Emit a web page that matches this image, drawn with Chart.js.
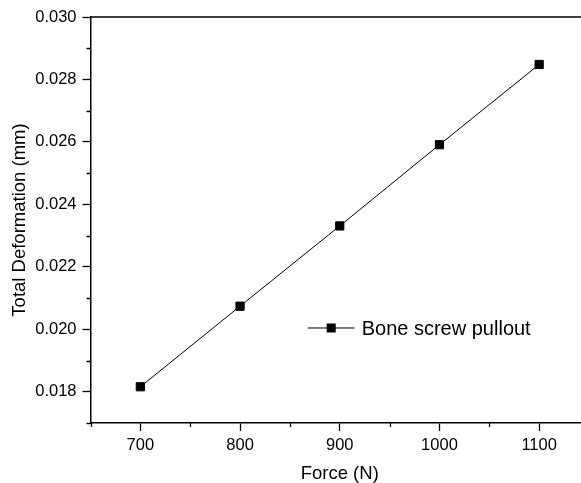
<!DOCTYPE html>
<html>
<head>
<meta charset="utf-8">
<script src="https://cdn.jsdelivr.net/npm/chart.js@4/dist/chart.umd.min.js"></script>
<style>
html,body{margin:0;padding:0;background:#fff;overflow:hidden;}
#wrap{width:581px;height:483px;overflow:hidden;}
</style>
</head>
<body>
<div id="wrap"><canvas id="grafico" width="600" height="483"></canvas></div>
<script>
"use strict";
// dati
const forces = [700, 800, 900, 1000, 1100];
const deformation = [0.01816, 0.02074, 0.02331, 0.02591, 0.02848];
const seriesName = "Bone screw pullout";

// tacche degli assi
const xTicks = [700, 800, 900, 1000, 1100];
const xMinor = [650, 750, 850, 950, 1050, 1150];
const yTicks = [0.018, 0.020, 0.022, 0.024, 0.026, 0.028, 0.030];
const yMinor = [0.017, 0.019, 0.021, 0.023, 0.025, 0.027, 0.029];

const FONT = "'Liberation Sans', Arial, sans-serif";
Chart.defaults.color = "#000";
Chart.defaults.font.family = FONT;

const punti = forces.map((f, i) => ({x: f, y: deformation[i]}));

// tacche minori, bordo superiore e legenda dentro l'area del grafico
const extras = {
    id: "extras",
    afterDraw(chart) {
        const ctx = chart.ctx;
        const area = chart.chartArea;
        const sx = chart.scales.x, sy = chart.scales.y;
        ctx.save();
        ctx.strokeStyle = "#000";
        ctx.lineWidth = 1.5;
        ctx.beginPath();
        ctx.moveTo(area.left, area.top);
        ctx.lineTo(area.right + 20, area.top);
        ctx.stroke();

        ctx.lineWidth = 1.3;
        ctx.beginPath();
        for (const v of xMinor) {
            const px = Math.round(sx.getPixelForValue(v)) + 0.5;
            ctx.moveTo(px, area.bottom);
            ctx.lineTo(px, area.bottom + 4);
        }
        for (const v of yMinor) {
            const py = Math.round(sy.getPixelForValue(v)) + 0.5;
            ctx.moveTo(area.left, py);
            ctx.lineTo(area.left - 4, py);
        }
        ctx.stroke();

        // legenda
        const lx = area.left + 0.4357 * area.width;
        const ly = area.top + 0.766 * area.height;
        ctx.lineWidth = 1;
        ctx.beginPath();
        ctx.moveTo(lx, ly);
        ctx.lineTo(lx + 47, ly);
        ctx.stroke();
        ctx.fillStyle = "#000";
        ctx.fillRect(lx + 23.5 - 4.5, ly - 4.5, 9, 9);
        ctx.font = "20px " + FONT;
        ctx.textBaseline = "middle";
        ctx.textAlign = "left";
        ctx.fillText(seriesName, lx + 54, ly + 1);
        ctx.restore();
    }
};

const chart = new Chart(document.getElementById("grafico"), {
    type: "line",
    data: {
        datasets: [{
            label: seriesName,
            data: punti,
            borderColor: "#000",
            borderWidth: 1,
            backgroundColor: "#000",
            pointStyle: "rect",
            pointRadius: 5.8,
            pointBorderWidth: 1,
            pointBorderColor: "#000",
            pointBackgroundColor: "#000",
            tension: 0
        }]
    },
    options: {
        responsive: false,
        animation: false,
        layout: {padding: {top: 17, right: 11, bottom: 0, left: 0}},
        plugins: {
            legend: {display: false},
            tooltip: {enabled: false}
        },
        scales: {
            x: {
                type: "linear",
                min: 650,
                max: 1150,
                afterBuildTicks: s => { s.ticks = xTicks.map(v => ({value: v})); },
                afterFit: s => { s.height = 60; },
                ticks: {
                    font: {size: 16.5},
                    padding: 5,
                    maxRotation: 0,
                    callback: v => String(v)
                },
                grid: {drawOnChartArea: false, tickLength: 8, tickColor: "#000", tickWidth: 1.3},
                border: {display: true, color: "#000", width: 1.5},
                title: {
                    display: true,
                    text: "Force (N)",
                    font: {size: 18.5, lineHeight: 1},
                    padding: {top: 0, bottom: 0}
                }
            },
            y: {
                type: "linear",
                min: 0.017,
                max: 0.030,
                afterBuildTicks: s => { s.ticks = yTicks.map(v => ({value: v})); },
                afterFit: s => { s.width = 90.5; },
                ticks: {
                    font: {size: 16.5},
                    padding: 6,
                    callback: v => v.toFixed(3)
                },
                grid: {drawOnChartArea: false, tickLength: 8, tickColor: "#000", tickWidth: 1.3},
                border: {display: true, color: "#000", width: 1.5},
                title: {
                    display: true,
                    text: "Total Deformation (mm)",
                    font: {size: 18.5, lineHeight: 1},
                    padding: {top: 11, bottom: 0}
                }
            }
        }
    },
    plugins: [extras]
});
</script>
</body>
</html>
